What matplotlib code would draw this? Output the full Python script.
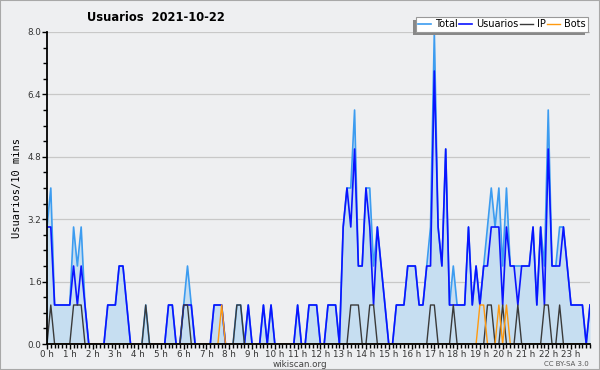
import numpy as np
import matplotlib
matplotlib.use('Agg')
import matplotlib.pyplot as plt
from matplotlib.patches import Rectangle
from matplotlib.ticker import MultipleLocator, FixedLocator

# one value every 10 minutes, 2021-10-22
total = [3, 4, 1, 1, 1, 1, 1, 3, 2, 3,
         1, 0, 0, 0, 0, 0, 1, 1, 1, 2,
         2, 1, 0, 0, 0, 0, 1, 0, 0, 0,
         0, 0, 1, 1, 0, 0, 1, 2, 1, 0,
         0, 0, 0, 0, 1, 1, 1, 0, 0, 0,
         1, 1, 0, 1, 0, 0, 0, 1, 0, 1,
         0, 0, 0, 0, 0, 0, 1, 0, 0, 1,
         1, 1, 0, 0, 1, 1, 1, 0, 3, 4,
         4, 6, 2, 2, 4, 4, 2, 3, 2, 1,
         0, 0, 1, 1, 1, 2, 2, 2, 1, 1,
         2, 3, 8, 3, 2, 5, 1, 2, 1, 1,
         1, 3, 1, 2, 1, 2, 3, 4, 3, 4,
         2, 4, 2, 2, 2, 2, 2, 2, 3, 1,
         3, 2, 6, 2, 2, 3, 3, 2, 1, 1,
         1, 1, 0, 1]
usuarios = [3, 3, 1, 1, 1, 1, 1, 2, 1, 2,
            1, 0, 0, 0, 0, 0, 1, 1, 1, 2,
            2, 1, 0, 0, 0, 0, 0, 0, 0, 0,
            0, 0, 1, 1, 0, 0, 1, 1, 1, 0,
            0, 0, 0, 0, 1, 1, 1, 0, 0, 0,
            0, 0, 0, 1, 0, 0, 0, 1, 0, 1,
            0, 0, 0, 0, 0, 0, 1, 0, 0, 1,
            1, 1, 0, 0, 1, 1, 1, 0, 3, 4,
            3, 5, 2, 2, 4, 3, 1, 3, 2, 1,
            0, 0, 1, 1, 1, 2, 2, 2, 1, 1,
            2, 2, 7, 3, 2, 5, 1, 1, 1, 1,
            1, 3, 1, 2, 1, 2, 2, 3, 3, 3,
            1, 3, 2, 2, 1, 2, 2, 2, 3, 1,
            3, 1, 5, 2, 2, 2, 3, 2, 1, 1,
            1, 1, 0, 1]
ip = [0, 1, 0, 0, 0, 0, 0, 1, 1, 1,
      0, 0, 0, 0, 0, 0, 0, 0, 0, 0,
      0, 0, 0, 0, 0, 0, 1, 0, 0, 0,
      0, 0, 0, 0, 0, 0, 1, 1, 0, 0,
      0, 0, 0, 0, 0, 0, 0, 0, 0, 0,
      1, 1, 0, 0, 0, 0, 0, 0, 0, 0,
      0, 0, 0, 0, 0, 0, 0, 0, 0, 0,
      0, 0, 0, 0, 0, 0, 0, 0, 0, 0,
      1, 1, 1, 0, 0, 1, 1, 0, 0, 0,
      0, 0, 0, 0, 0, 0, 0, 0, 0, 0,
      0, 1, 1, 0, 0, 0, 0, 1, 0, 0,
      0, 0, 0, 0, 0, 0, 1, 1, 0, 0,
      1, 0, 0, 0, 1, 0, 0, 0, 0, 0,
      0, 1, 1, 0, 0, 1, 0, 0, 0, 0,
      0, 0, 0, 0]
bots = [0] * 144
for i in (46, 114, 115, 119, 121):
    bots[i] = 1

hour_labels = ['%d h' % h for h in range(24)]

bg = '#eeeff1'
fig = plt.figure(figsize=(6, 3.7), dpi=100, facecolor=bg)
fig.patches.append(Rectangle((0, 0), 1, 1, transform=fig.transFigure, fill=False,
                             edgecolor='#a8a8a8', linewidth=1.5))
ax = fig.add_axes([47 / 600, 1 - 344 / 370, 543 / 600, 312 / 370])
ax.set_facecolor(bg)

x = np.arange(len(total))
ax.fill_between(x, 0, total, color='#c6def1', linewidth=0, zorder=1)
ax.plot(x, total, color='#3c9cf0', lw=1.2, label='Total', zorder=2)
ax.plot(x, usuarios, color='#0a14ff', lw=1.2, label='Usuarios', zorder=3)
ax.plot(x, ip, color='#3a3a3a', lw=1.0, label='IP', zorder=4)
ax.plot(x, bots, color='#ff9a10', lw=1.0, label='Bots', zorder=4)

ax.set_xlim(0, 143)
ax.set_ylim(0, 8)
ax.grid(axis='y', color='#c8c8c8', lw=0.9, zorder=0)
ax.set_axisbelow(True)

ax.yaxis.set_major_locator(MultipleLocator(1.6))
ax.yaxis.set_minor_locator(MultipleLocator(0.4))
ax.yaxis.set_major_formatter(plt.FormatStrFormatter('%.1f'))
ax.xaxis.set_major_locator(FixedLocator(range(0, 144, 6)))
ax.xaxis.set_minor_locator(MultipleLocator(1))
ax.set_xticklabels(hour_labels)
ax.tick_params(which='both', direction='out', color='black', labelsize=6.3,
               labelcolor='#333333', pad=0.5)
ax.tick_params(which='major', length=3.5, width=1)
ax.tick_params(which='minor', length=3, width=1)

for s in ('top', 'right'):
    ax.spines[s].set_visible(False)
for s in ('left', 'bottom'):
    ax.spines[s].set_linewidth(1.3)
    ax.spines[s].set_zorder(6)

ax.set_ylabel('Usuarios/10 mins', family='DejaVu Sans Mono', fontsize=7.5, labelpad=4)

fig.text(0.26, 0.953, 'Usuarios  2021-10-22', ha='center', va='center',
         fontsize=8.3, fontweight='bold')
fig.text(0.5, 0.015, 'wikiscan.org', ha='center', va='center', fontsize=6.3, color='#444444')
fig.text(0.982, 0.015, 'CC BY-SA 3.0', ha='right', va='center', fontsize=5, color='#555555')

leg = ax.legend(loc='upper right', bbox_to_anchor=(588 / 600, 1 - 17 / 370),
                bbox_transform=fig.transFigure, ncol=4, fontsize=7,
                frameon=True, fancybox=False, framealpha=1, edgecolor='#999999',
                handlelength=1.3, handletextpad=0.4, columnspacing=0.2,
                borderpad=0.25, borderaxespad=0)
leg.set_zorder(10)
leg.get_frame().set_linewidth(0.8)

fig.canvas.draw()
bb = leg.get_window_extent()
shadow = Rectangle((bb.x0 - 3, bb.y0 - 3), bb.width, bb.height, transform=None,
                   facecolor='#888888', edgecolor='none', zorder=9, clip_on=False)
ax.add_artist(shadow)

fig.savefig('out.png', dpi=100, facecolor=bg)
